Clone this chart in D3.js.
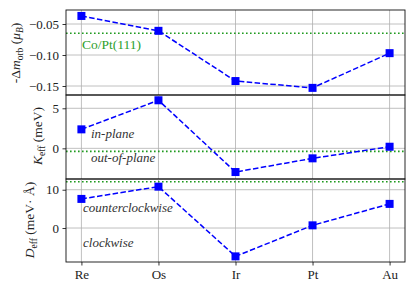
<!DOCTYPE html>
<html>
<head>
<meta charset="utf-8">
<script src="https://cdn.jsdelivr.net/npm/d3@7"></script>
<style>
  body { margin: 0; background: #fff; }
</style>
</head>
<body>
<div id="chart"></div>
<script>
// data
var elements = ['Re', 'Os', 'Ir', 'Pt', 'Au'];
var mOrb = [-0.037, -0.061, -0.142, -0.153, -0.097];
var kEff = [2.37, 6.0, -2.96, -1.25, 0.2];
var dEff = [7.6, 10.8, -7.4, 0.7, 6.3];
var mOrbRef = -0.065;
var kEffRef = -0.38;
var dEffRef = 12.1;
var mTicks = [-0.05, -0.10, -0.15];
var kTicks = [0, 5];
var dTicks = [0, 10];

var FONT = 'Liberation Serif';
var svgWidth = 415, svgHeight = 288;
var left = 66, right = 405;

var svg = d3.select('#chart').append('svg')
  .attr('width', svgWidth)
  .attr('height', svgHeight)
  .style('font-family', FONT);

var x = d3.scaleLinear().domain([-0.2, 4.2]).range([left, right]);

var panels = [
  { vals: mOrb, ref: mOrbRef, ticks: mTicks, top: 10, bottom: 95, domain: [-0.1645, -0.0274],
    fmt: d => d3.format('.2f')(d).replace('-', '\u2212') },
  { vals: kEff, ref: kEffRef, ticks: kTicks, top: 95, bottom: 179, domain: [-3.83, 6.66],
    fmt: d => String(d) },
  { vals: dEff, ref: dEffRef, ticks: dTicks, top: 179, bottom: 262, domain: [-8.87, 12.8],
    fmt: d => String(d) }
];

panels.forEach(function(p, i) {
  var y = d3.scaleLinear().domain(p.domain).range([p.bottom, p.top]);
  var g = svg.append('g');

  // grid
  g.selectAll('.vg').data(elements).enter().append('line')
    .attr('x1', (d, j) => x(j)).attr('x2', (d, j) => x(j))
    .attr('y1', p.top).attr('y2', p.bottom)
    .attr('stroke', '#b0b0b0').attr('stroke-width', 0.8);
  g.selectAll('.hg').data(p.ticks).enter().append('line')
    .attr('x1', left).attr('x2', right)
    .attr('y1', d => y(d)).attr('y2', d => y(d))
    .attr('stroke', '#b0b0b0').attr('stroke-width', 0.8);

  // y axis
  var ax = g.append('g')
    .attr('transform', `translate(${left},0)`)
    .call(d3.axisLeft(y).tickValues(p.ticks).tickSize(3.5).tickPadding(3.5).tickFormat(p.fmt));
  ax.attr('font-family', null);
  ax.select('.domain').remove();
  ax.selectAll('line').attr('stroke', '#000').attr('stroke-width', 0.8);
  ax.selectAll('text').attr('font-size', 13).style('font-family', FONT).attr('fill', '#222');

  // reference line
  g.append('line')
    .attr('x1', left).attr('x2', right)
    .attr('y1', y(p.ref)).attr('y2', y(p.ref))
    .attr('stroke', '#1f9a1f').attr('stroke-width', 1.6)
    .attr('stroke-dasharray', '1.6,2.4');

  // series
  var line = d3.line().x((d, j) => x(j)).y(d => y(d));
  g.append('path')
    .datum(p.vals)
    .attr('d', line)
    .attr('fill', 'none')
    .attr('stroke', '#0000ff')
    .attr('stroke-width', 1.5)
    .attr('stroke-dasharray', '5.5,2.4');
  g.selectAll('rect.mk').data(p.vals).enter().append('rect')
    .attr('x', (d, j) => x(j) - 4).attr('y', d => y(d) - 4)
    .attr('width', 8).attr('height', 8)
    .attr('fill', '#0000ff');

  // frame
  g.append('rect')
    .attr('x', left).attr('y', p.top)
    .attr('width', right - left).attr('height', p.bottom - p.top)
    .attr('fill', 'none').attr('stroke', '#111').attr('stroke-width', 0.9);
});

// bottom x axis
var xa = svg.append('g')
  .attr('transform', `translate(0,${panels[2].bottom})`)
  .call(d3.axisBottom(x).tickValues([0, 1, 2, 3, 4]).tickSize(3.5).tickPadding(4)
    .tickFormat(d => elements[d]));
xa.attr('font-family', null);
xa.select('.domain').remove();
xa.selectAll('line').attr('stroke', '#000').attr('stroke-width', 0.8);
xa.selectAll('text').attr('font-size', 13).style('font-family', FONT).attr('fill', '#222');

// annotations
svg.append('text').attr('x', 82).attr('y', 49).attr('font-size', 13.5)
  .attr('fill', '#2ca02c').text('Co/Pt(111)');
var notes = [
  ['in-plane', 91, 138],
  ['out-of-plane', 91, 162],
  ['counterclockwise', 83, 212],
  ['clockwise', 83, 247]
];
notes.forEach(function(n) {
  svg.append('text').attr('x', n[1]).attr('y', n[2]).attr('font-size', 13)
    .attr('font-style', 'italic').attr('fill', '#333').text(n[0]);
});

// y labels
function ylabel(cx, cy, build) {
  var t = svg.append('text')
    .attr('transform', `translate(${cx},${cy}) rotate(-90)`)
    .attr('text-anchor', 'middle')
    .attr('font-size', 13.5).attr('fill', '#222');
  build(t);
}
ylabel(20, 53, function(t) {
  t.append('tspan').text('-\u0394');
  t.append('tspan').attr('font-style', 'italic').text('m');
  t.append('tspan').attr('font-size', 9.5).attr('dy', 3).text('orb');
  t.append('tspan').attr('dy', -3).text(' (');
  t.append('tspan').attr('font-style', 'italic').text('\u03bc');
  t.append('tspan').attr('font-style', 'italic').attr('font-size', 9.5).attr('dy', 3).text('B');
  t.append('tspan').attr('dy', -3).text(')');
});
ylabel(42, 136, function(t) {
  t.append('tspan').attr('font-style', 'italic').text('K');
  t.append('tspan').attr('font-size', 9.5).attr('dy', 3).text('eff');
  t.append('tspan').attr('dy', -3).text(' (meV)');
});
ylabel(34, 220, function(t) {
  t.append('tspan').attr('font-style', 'italic').text('D');
  t.append('tspan').attr('font-size', 9.5).attr('dy', 3).text('eff');
  t.append('tspan').attr('dy', -3).text(' (meV\u00b7 \u00c5)');
});
</script>
</body>
</html>
